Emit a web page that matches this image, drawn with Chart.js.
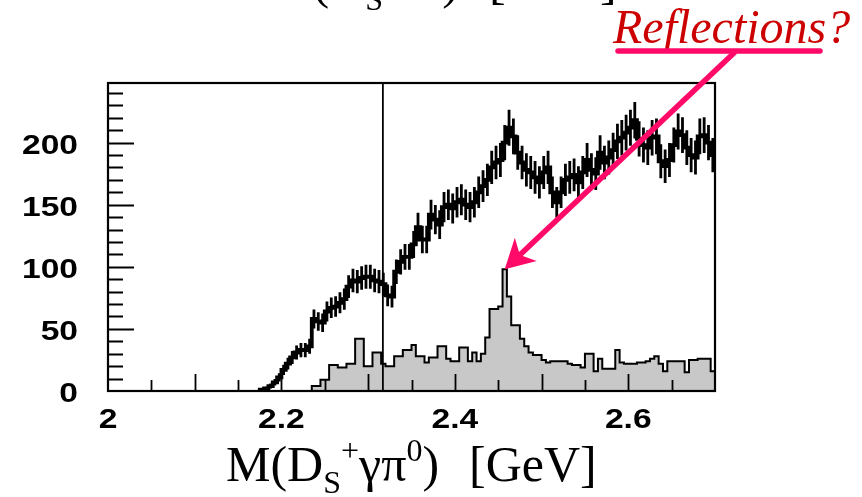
<!DOCTYPE html>
<html lang="en">
<head>
<meta charset="UTF-8">
<title>M(Ds+ gamma pi0)</title>
<script src="https://cdn.jsdelivr.net/npm/chart.js"></script>
<style>
  html, body { margin: 0; padding: 0; background: #fff; }
  .wrap { width: 862px; height: 497px; overflow: hidden; }
  canvas { display: block; }
</style>
</head>
<body>
<div class="wrap"><canvas id="massChart" width="862" height="497"></canvas></div>
<script>
// histograms in 5 MeV bins
const BIN_WIDTH = 0.005;

// Ds+ gamma pi0 candidates, first bin starts at 2.175 GeV
const dataStart = 2.175;
const dataCounts = [
  1, 2, 4, 7, 11, 17, 22, 27, 31, 33, 33, 36,
  58, 56, 55, 64, 67, 68, 71,
  74, 84, 89, 88, 91, 92, 92, 89, 88, 86, 77, 76,
  96, 104, 108, 108, 118, 132, 122, 122, 142, 138, 134, 148, 150, 147,
  152, 154, 150, 148, 152, 160, 165, 170, 180, 184, 186, 200, 212, 205,
  192, 184, 178, 176, 172, 168, 176, 180, 160, 152, 160, 170, 172, 174, 168, 176, 186, 178,
  175, 192, 184, 188, 194, 201, 204, 208, 212, 218, 203, 198, 196, 204,
  205, 185, 181, 186, 198, 209, 206, 196, 190, 188, 205, 206, 200, 190
];

// reflection component (shaded), first bin starts at 2.235 GeV
const reflStart = 2.235;
const reflCounts = [
  4, 4, 9, 9, 21, 21, 19, 19, 22, 22, 42, 42,
  20, 20, 31, 31, 22, 20, 20, 28, 28, 33, 33, 37,
  28, 28, 23, 27, 27, 36, 36, 26, 24, 24, 35, 35,
  24, 31, 24, 30, 43, 66, 66, 68, 98, 76, 53, 53,
  42, 36, 31, 29, 29, 25, 23, 24, 24, 24, 24, 22,
  21, 21, 19, 30, 30, 16, 26, 18, 18, 18, 33, 23,
  22, 22, 22, 23, 23, 24, 26, 28, 22, 16, 24, 24,
  24, 24, 15, 25, 25, 26, 26, 26, 16
];

const xTickValues = [2.0, 2.2, 2.4, 2.6];
const xTickLabels = ['2', '2.2', '2.4', '2.6'];
const yTickValues = [0, 50, 100, 150, 200];
const yTickLabels = ['0', '50', '100', '150', '200'];
const dsMass = 2.317; // Ds(2317) marker line

// turn bin contents into a step outline (one point per left edge)
function stepPoints(start, counts, closeRight) {
  const pts = [{ x: start, y: 0 }];
  counts.forEach((c, i) => pts.push({ x: start + i * BIN_WIDTH, y: c }));
  const end = start + counts.length * BIN_WIDTH;
  pts.push({ x: end, y: counts[counts.length - 1] });
  if (closeRight) pts.push({ x: end, y: 0 });
  return pts;
}

const SERIF = '"Liberation Serif", "Times New Roman", serif';
const SANS = '"Liberation Sans", Arial, sans-serif';

// wide helvetica-looking axis numbers
function wideText(ctx, text, x, y, align) {
  ctx.save();
  ctx.translate(x, y);
  ctx.scale(1.2, 1);
  ctx.textAlign = align;
  ctx.textBaseline = 'alphabetic';
  ctx.fillText(text, 0, 0);
  ctx.restore();
}

// left-to-right text pieces with sub/superscripts
function richText(ctx, parts, x, y) {
  let cx = x;
  parts.forEach(p => {
    if (p.gap) { cx += p.gap; return; }
    ctx.font = p.size + 'px ' + SERIF;
    ctx.fillText(p.t, cx, y + (p.dy || 0));
    cx += ctx.measureText(p.t).width;
  });
}

const framePlugin = {
  id: 'frame',
  afterDatasetsDraw(chart) {
    const { ctx, chartArea: a, scales: { x, y } } = chart;
    ctx.save();
    ctx.strokeStyle = '#000';
    ctx.fillStyle = '#000';

    // error bars on the data histogram
    ctx.lineWidth = 2.8;
    ctx.beginPath();
    dataCounts.forEach((c, i) => {
      const px = x.getPixelForValue(dataStart + (i + 0.5) * BIN_WIDTH);
      const e = Math.sqrt(c);
      ctx.moveTo(px, y.getPixelForValue(c - e));
      ctx.lineTo(px, y.getPixelForValue(c + e));
    });
    ctx.stroke();

    // Ds(2317) line
    ctx.lineWidth = 1.8;
    const lx = x.getPixelForValue(dsMass);
    ctx.beginPath();
    ctx.moveTo(lx, a.top);
    ctx.lineTo(lx, a.bottom);
    ctx.stroke();

    // inward ticks
    ctx.lineWidth = 1.8;
    ctx.beginPath();
    for (let v = 10; v < 248; v += 10) {
      const py = Math.round(y.getPixelForValue(v)) + 0.5;
      ctx.moveTo(a.left, py);
      ctx.lineTo(a.left + (v % 50 === 0 ? 26 : 15), py);
    }
    for (let i = 1; i < 14; i++) {
      const px = Math.round(x.getPixelForValue(2 + i * 0.05)) + 0.5;
      ctx.moveTo(px, a.bottom);
      ctx.lineTo(px, a.bottom - (i % 2 === 0 ? 17 : 11));
    }
    ctx.stroke();

    // frame
    ctx.lineWidth = 2.2;
    ctx.strokeRect(a.left, a.top, a.right - a.left, a.bottom - a.top);

    // tick labels
    ctx.font = 'bold 28px ' + SANS;
    yTickValues.forEach((v, i) => wideText(ctx, yTickLabels[i], 78, y.getPixelForValue(v) + 11, 'right'));
    xTickValues.forEach((v, i) => wideText(ctx, xTickLabels[i], x.getPixelForValue(v), 428, 'center'));

    // axis title
    ctx.textAlign = 'left';
    ctx.textBaseline = 'alphabetic';
    richText(ctx, [
      { t: 'M(D', size: 50 }, { t: 'S', size: 32, dy: 12 }, { t: '+', size: 32, dy: -20 },
      { t: '\u03b3\u03c0', size: 50 }, { t: '0', size: 32, dy: -20 }, { t: ')', size: 50 },
      { gap: 30 }, { t: '[GeV]', size: 50 }
    ], 226, 481);

    // title of the panel above, cut by the page edge
    richText(ctx, [
      { t: 'M(D', size: 50 }, { t: 'S', size: 32, dy: 12 }, { t: '+', size: 32, dy: -20 },
      { t: '\u03c0', size: 50 }, { t: '0', size: 32, dy: -20 }, { t: ')', size: 50 },
      { gap: 30 }, { t: '[GeV]', size: 50 }
    ], 268, -2);

    // reflection annotation
    ctx.fillStyle = '#cc0000';
    ctx.font = 'italic 48px ' + SERIF;
    ctx.fillText('Reflections?', 613, 43);

    const pink = '#ff0a68';
    ctx.strokeStyle = pink;
    ctx.fillStyle = pink;
    ctx.lineCap = 'round';
    ctx.lineWidth = 5.5;
    ctx.beginPath();
    ctx.moveTo(618, 51);
    ctx.lineTo(820, 51);
    ctx.stroke();

    const peak = reflCounts.indexOf(Math.max(...reflCounts));
    const tipX = x.getPixelForValue(reflStart + (peak + 0.5) * BIN_WIDTH);
    const tipY = y.getPixelForValue(reflCounts[peak]);
    const tailX = 735, tailY = 52;
    const len = Math.hypot(tailX - tipX, tailY - tipY);
    const ux = (tailX - tipX) / len, uy = (tailY - tipY) / len;
    const nx = -uy, ny = ux;
    const L = 29, W = 16;
    ctx.lineCap = 'butt';
    ctx.lineWidth = 5.5;
    ctx.beginPath();
    ctx.moveTo(tailX, tailY);
    ctx.lineTo(tipX + ux * L * 0.7, tipY + uy * L * 0.7);
    ctx.stroke();
    ctx.beginPath();
    ctx.moveTo(tipX, tipY);
    ctx.lineTo(tipX + ux * L + nx * W, tipY + uy * L + ny * W);
    ctx.lineTo(tipX + ux * L * 0.72, tipY + uy * L * 0.72);
    ctx.lineTo(tipX + ux * L - nx * W, tipY + uy * L - ny * W);
    ctx.closePath();
    ctx.fill();

    ctx.restore();
  }
};

new Chart(document.getElementById('massChart'), {
  type: 'line',
  data: {
    datasets: [{
      label: 'data',
      data: stepPoints(dataStart, dataCounts, false),
      borderColor: '#000',
      borderWidth: 3.8,
      stepped: true,
      fill: false,
      pointRadius: 0
    }, {
      label: 'reflections',
      data: stepPoints(reflStart, reflCounts, true),
      borderColor: '#000',
      borderWidth: 2,
      backgroundColor: '#c8c8c8',
      stepped: true,
      fill: 'origin',
      pointRadius: 0
    }]
  },
  options: {
    responsive: false,
    animation: false,
    layout: { padding: { left: 108, right: 147, top: 83, bottom: 106 } },
    plugins: { legend: { display: false }, tooltip: { enabled: false } },
    scales: {
      x: { type: 'linear', min: 2.0, max: 2.7, display: false },
      y: { type: 'linear', min: 0, max: 248, display: false }
    }
  },
  plugins: [framePlugin]
});
</script>
</body>
</html>
